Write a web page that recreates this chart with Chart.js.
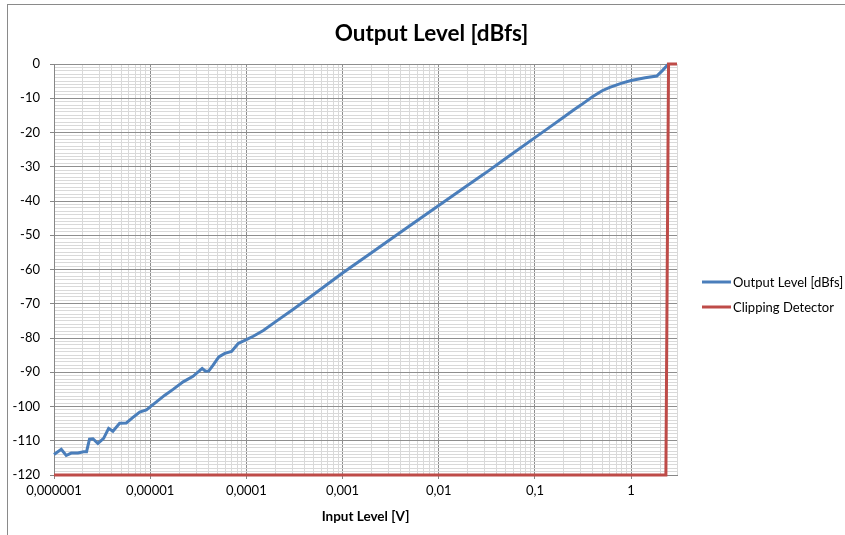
<!DOCTYPE html>
<html>
<head>
<meta charset="utf-8">
<title>Output Level [dBfs]</title>
<script src="https://cdn.jsdelivr.net/npm/chart.js@4/dist/chart.umd.min.js"></script>
<style>
  html, body { margin: 0; padding: 0; background: #fff; }
  #wrap { position: relative; width: 845px; height: 535px; }
</style>
</head>
<body>
<div id="wrap"><canvas id="levelChart" width="845" height="535"></canvas></div>
<script>
// measured points: input level [V] and output level [dBfs]
var inputLevel = [
  1e-6, 1.19e-6, 1.34e-6, 1.51e-6, 1.77e-6, 2.03e-6, 2.18e-6, 2.34e-6, 2.54e-6, 2.86e-6,
  3.28e-6, 3.70e-6, 4.10e-6, 4.81e-6, 5.65e-6, 6.62e-6, 7.78e-6, 9.13e-6, 1.11e-5, 1.42e-5,
  1.73e-5, 2.20e-5, 2.79e-5, 3.47e-5, 3.76e-5, 4.07e-5, 4.51e-5, 5.17e-5, 5.97e-5, 7.01e-5,
  8.22e-5, 1.00e-4, 1.18e-4, 1.50e-4, 2e-4, 3e-4, 5e-4, 1e-3, 2e-3, 3e-3,
  5e-3, 1e-2, 2e-2, 3e-2, 5e-2, 0.1, 0.15, 0.2, 0.25, 0.3,
  0.4, 0.5, 0.6, 0.8, 1.0, 1.4, 1.85, 2.1, 2.45
];
var outputLevel = [
  -114.0, -112.5, -114.3, -113.6, -113.6, -113.2, -113.2, -109.5, -109.4, -110.8,
  -109.3, -106.4, -107.2, -104.9, -104.8, -103.2, -101.6, -101.0, -99.1, -96.7,
  -95.0, -92.8, -91.2, -88.9, -89.7, -89.6, -87.9, -85.5, -84.5, -83.9,
  -81.6, -80.5, -79.5, -77.8, -75.3, -71.8, -67.3, -61.0, -55.1, -51.6,
  -47.2, -41.3, -35.4, -32.0, -27.5, -21.5, -18.0, -15.5, -13.5, -12.0,
  -9.5, -7.8, -6.8, -5.6, -4.8, -4.0, -3.5, -2.0, 0
];

// clipping detector: -120 = ok, 0 = clipping
var clipInput = [1e-6, 2.3, 2.45, 3];
var clipLevel = [-120, -120, 0, 0];

var xTickValues = [1e-6, 1e-5, 1e-4, 1e-3, 1e-2, 0.1, 1];
var xTickLabels = ['0,000001', '0,00001', '0,0001', '0,001', '0,01', '0,1', '1'];
var yTickValues = [0, -10, -20, -30, -40, -50, -60, -70, -80, -90, -100, -110, -120];

var fontName = 'Lato, "Liberation Sans", sans-serif';

function toPoints(xs, ys) {
  return xs.map(function(x, i) { return { x: x, y: ys[i] }; });
}

function isDecade(v) {
  return xTickValues.some(function(d) { return Math.abs(v - d) / d < 1e-6; });
}

// grey frame round the whole chart like the spreadsheet
var framePlugin = {
  id: 'frame',
  beforeDraw: function(chart) {
    var ctx = chart.ctx;
    ctx.save();
    ctx.strokeStyle = '#8a8a8a';
    ctx.lineWidth = 1;
    ctx.strokeRect(7.5, 4.5, 900, 600);
    ctx.restore();
  }
};

// legend at the right side
var sideLegend = {
  id: 'sideLegend',
  afterDraw: function(chart) {
    var ctx = chart.ctx;
    var x0 = chart.chartArea.right + 25;
    ctx.save();
    ctx.font = '13px ' + fontName;
    ctx.textBaseline = 'middle';
    ctx.fillStyle = '#000';
    chart.data.datasets.forEach(function(ds, i) {
      var y = 282 + i * 25;
      ctx.strokeStyle = ds.borderColor;
      ctx.lineWidth = 3;
      ctx.beginPath();
      ctx.moveTo(x0, y);
      ctx.lineTo(x0 + 29, y);
      ctx.stroke();
      ctx.fillText(ds.label, x0 + 31, y + 1);
    });
    ctx.restore();
  }
};

var ctx = document.getElementById('levelChart');

var chart = new Chart(ctx, {
  type: 'line',
  data: {
    datasets: [
      {
        label: 'Output Level [dBfs]',
        data: toPoints(inputLevel, outputLevel),
        borderColor: '#4a7ebb',
        borderWidth: 3,
        pointRadius: 0,
        tension: 0,
        fill: false,
        clip: false,
        order: 1
      },
      {
        label: 'Clipping Detector',
        data: toPoints(clipInput, clipLevel),
        borderColor: '#be4b48',
        borderWidth: 3,
        pointRadius: 0,
        tension: 0,
        fill: false,
        clip: false,
        order: 0
      }
    ]
  },
  options: {
    responsive: false,
    animation: false,
    // negative right padding: the title is centred on the whole frame, which runs past the canvas
    layout: { padding: { left: 0, right: -18, top: 0, bottom: 0 } },
    plugins: {
      legend: { display: false },
      tooltip: { enabled: false },
      title: {
        display: true,
        text: 'Output Level [dBfs]',
        color: '#000',
        font: { family: fontName, size: 22.5, weight: 'bold' },
        padding: { top: 20, bottom: 17 }
      }
    },
    scales: {
      x: {
        type: 'logarithmic',
        min: 1e-6,
        max: 3,
        afterBuildTicks: function(scale) {
          var ticks = [];
          for (var d = -6; d <= 0; d++) {
            for (var m = 1; m <= 9; m++) {
              var v = parseFloat((m * Math.pow(10, d)).toPrecision(6));
              if (v <= 3) ticks.push({ value: v });
            }
          }
          scale.ticks = ticks;
        },
        afterFit: function(scale) { scale.height = 60; },
        ticks: {
          autoSkip: false,
          maxRotation: 0,
          minRotation: 0,
          padding: 4,
          color: '#000',
          font: { family: fontName, size: 13 },
          callback: function(value) {
            for (var i = 0; i < xTickValues.length; i++) {
              if (Math.abs(value - xTickValues[i]) / xTickValues[i] < 1e-6) return xTickLabels[i];
            }
            return '';
          }
        },
        grid: {
          tickLength: 4,
          color: function(c) { return c.tick && isDecade(c.tick.value) ? '#8e8e8e' : '#d9d9d9'; },
          tickColor: function(c) { return c.tick && isDecade(c.tick.value) ? '#868686' : 'rgba(0,0,0,0)'; }
        },
        border: { color: '#868686', width: 1 },
        title: {
          display: true,
          text: 'Input Level [V]',
          color: '#000',
          font: { family: fontName, size: 13.5, weight: 'bold' },
          padding: { top: 0, bottom: 10 }
        }
      },
      y: {
        type: 'linear',
        min: -120,
        max: 0,
        afterBuildTicks: function(scale) {
          var ticks = [];
          for (var v = -120; v <= 0; v++) ticks.push({ value: v });
          scale.ticks = ticks;
        },
        afterFit: function(scale) { scale.width = 54; },
        ticks: {
          autoSkip: false,
          padding: 10,
          color: '#000',
          font: { family: fontName, size: 13 },
          callback: function(value) {
            return yTickValues.indexOf(value) >= 0 ? String(value) : '';
          }
        },
        grid: {
          tickLength: 4,
          color: function(c) { return c.tick && c.tick.value % 10 === 0 ? '#8e8e8e' : '#d9d9d9'; },
          tickColor: function(c) { return c.tick && c.tick.value % 10 === 0 ? '#868686' : 'rgba(0,0,0,0)'; }
        },
        border: { color: '#868686', width: 1 }
      },
      // keeps room on the right for the legend
      yRight: {
        type: 'linear',
        position: 'right',
        display: true,
        ticks: { display: false },
        grid: { drawOnChartArea: false, drawTicks: false },
        border: { display: false },
        afterFit: function(scale) { scale.width = 186; }
      }
    }
  },
  plugins: [framePlugin, sideLegend]
});
</script>
</body>
</html>
